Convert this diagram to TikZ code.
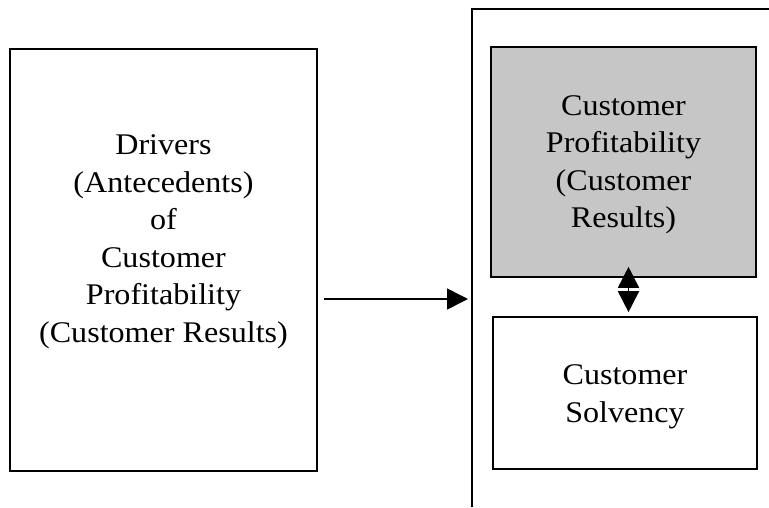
\documentclass[tikz,border=0pt]{standalone}
\usepackage{fontspec}
\setmainfont{Liberation Serif}[FakeStretch=1.07]
\usetikzlibrary{arrows.meta}
\tikzset{
  boxst/.style={draw=black, line width=1.6pt, inner sep=0pt},
  greyst/.style={boxst, fill=gray!45},
  txtst/.style={align=center, inner sep=0pt, font=\fontsize{30}{37.5}\selectfont},
  framest/.style={draw=black, line width=1.5pt},
  arrst/.style={line width=1.6pt, -{Triangle[length=21pt,width=21pt]}},
  dblst/.style={line width=1.6pt, {Triangle[length=21pt,width=21pt]}-{Triangle[length=21pt,width=21pt]}}
}
\begin{document}
\begin{tikzpicture}[x=1pt,y=-1pt]
\useasboundingbox (0,0) rectangle (769,507);
\fill[white] (0,0) rectangle (769,507);
% left box
\node[boxst, minimum width=307pt, minimum height=422pt] (drv) at (163.5,260) {};
\node[txtst] (drvt) at (163.5,242) {Drivers\\(Antecedents)\\of\\Customer\\Profitability\\(Customer Results)};
% right frame (open)
\coordinate (fb) at (472,507);
\coordinate (ft) at (472,9);
\coordinate (fr) at (769,9);
\coordinate (fl) at (472,299);
\draw[framest] (fb) -- (ft) -- (fr);
% grey box
\node[greyst, minimum width=265pt, minimum height=230pt] (prof) at (623.5,162) {};
\node[txtst] (proft) at (623.5,165) {Customer\\Profitability\\(Customer\\Results)};
% solvency box
\node[boxst, minimum width=264pt, minimum height=152pt] (solv) at (625,393) {};
\node[txtst] (solvt) at (625,397) {Customer\\Solvency};
% arrows
\draw[arrst, shorten <=6pt, shorten >=4pt] (drv.east |- fl) -- (fl);
\coordinate (dx) at (628.5,300);
\draw[dblst, shorten <=4pt, shorten >=-11pt] (solv.north -| dx) -- (prof.south -| dx);
\end{tikzpicture}
\end{document}
